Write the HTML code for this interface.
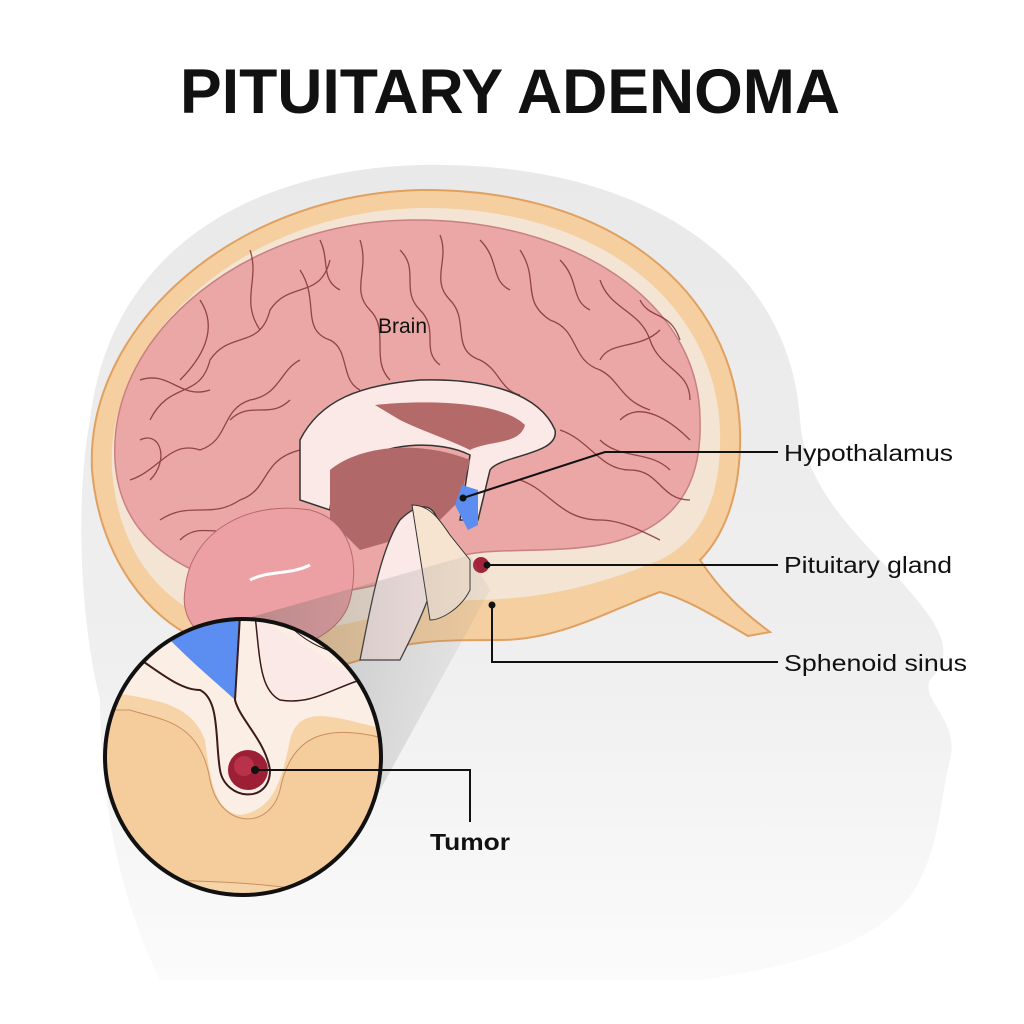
<!DOCTYPE html>
<html><head><style>
html,body{margin:0;padding:0;background:#fff;}
svg{display:block}
text{font-family:"Liberation Sans",Arial,sans-serif;}
</style></head><body>
<svg width="1024" height="1024" viewBox="0 0 1024 1024" xmlns="http://www.w3.org/2000/svg">
<defs>
<linearGradient id="cone" x1="0" y1="0" x2="1" y2="0">
<stop offset="0" stop-color="#555" stop-opacity="0.75"/>
<stop offset="1" stop-color="#888" stop-opacity="0.15"/>
</linearGradient>
<linearGradient id="fade" x1="0" y1="0" x2="0" y2="1">
<stop offset="0" stop-color="#e9e9e9"/>
<stop offset="0.6" stop-color="#efefef"/>
<stop offset="1" stop-color="#fbfbfb"/>
</linearGradient>
<clipPath id="cc"><circle cx="243" cy="757" r="138"/></clipPath>
</defs>
<path d="M420 165 C640 160 790 260 800 420 C805 480 840 520 900 580 C935 620 960 650 930 680 C920 700 960 720 950 760 C940 800 940 840 920 880 C900 920 850 960 700 980 L160 980 C120 900 100 800 100 700 C80 620 75 500 90 420 C110 250 250 170 420 165 Z" fill="url(#fade)"/>
<path d="M420 190 C610 188 735 290 740 430 C742 500 720 540 700 560 C720 590 740 610 770 632 L748 636 C720 620 690 600 660 592 C610 610 560 640 500 640 C440 640 400 640 360 660 C300 680 250 660 200 640 C150 620 100 560 92 470 C85 330 230 195 420 190 Z" fill="#f5cfa0" stroke="#e0a060" stroke-width="2"/>
<path d="M420 208 C595 206 715 300 720 430 C722 500 700 540 660 560 C600 585 540 600 470 600 C380 610 320 640 250 630 C180 620 120 570 112 470 C105 340 240 212 420 208 Z" fill="#f3e4d4"/>
<path d="M410 220 C570 218 700 300 700 420 C702 480 680 530 600 545 C540 555 480 545 450 560 C380 590 320 600 260 590 C200 580 120 550 115 460 C108 330 250 222 410 220 Z" fill="#eba7a5" stroke="#c98080" stroke-width="1.5"/>
<g fill="none" stroke="#7a2c2c" stroke-width="1.3" opacity="0.8">
<path d="M150 420 C170 380 200 400 210 360 C230 330 260 350 270 310 C290 280 320 300 330 260"/>
<path d="M130 480 C160 470 170 440 200 450 C230 440 220 410 250 400 C280 395 280 370 300 360"/>
<path d="M360 240 C370 270 350 290 370 310 C390 330 370 360 390 380"/>
<path d="M440 235 C450 260 430 280 450 300 C470 320 450 350 480 360 C500 370 500 390 520 395"/>
<path d="M520 250 C540 280 520 300 550 320 C580 330 570 360 600 370 C620 380 620 400 650 410"/>
<path d="M600 280 C610 310 640 310 650 340 C660 370 690 370 690 400"/>
<path d="M160 520 C190 500 210 520 240 500 C270 490 260 460 300 450 C320 440 320 420 340 410"/>
<path d="M560 430 C590 440 600 470 630 470 C660 470 660 500 690 500"/>
<path d="M520 480 C550 490 560 520 600 520 C620 520 640 530 660 540"/>
<path d="M250 250 C260 280 240 300 260 330"/>
<path d="M300 270 C320 300 300 330 330 340 C350 350 340 380 360 390"/>
<path d="M660 330 C640 350 610 340 600 360"/>
<path d="M200 300 C220 330 200 360 180 380"/>
<path d="M140 380 C170 370 180 400 210 390 M230 420 C250 400 270 420 290 400"/>
<path d="M400 250 C420 270 400 290 420 310 C440 330 420 350 440 365"/>
<path d="M480 240 C500 260 490 280 510 290 M560 260 C580 280 570 300 590 310"/>
<path d="M620 420 C640 400 670 420 690 440 M600 440 C620 460 650 450 670 470"/>
<path d="M140 440 C160 430 170 460 150 480 M180 540 C200 520 220 540 240 525"/>
<path d="M320 240 C330 260 320 280 340 290 M640 300 C650 320 670 310 680 340"/>
</g>
<path d="M300 440 C320 400 360 385 420 380 C490 378 540 395 555 430 C560 455 500 455 490 470 L478 520 L460 520 L470 455 C440 440 380 440 350 470 C340 480 330 500 330 510 L300 500 Z" fill="#fae9e6" stroke="#333" stroke-width="1.5"/>
<path d="M375 405 C420 400 500 400 525 425 C520 445 490 440 470 450 C450 440 420 430 400 420 Z" fill="#b56a6a"/>
<path d="M330 470 C360 445 420 440 470 460 L460 500 L430 530 L360 550 L330 520 Z" fill="#b06868"/>
<path d="M462 485 L478 490 L478 525 L468 530 L455 505 Z" fill="#5b8ef0"/>
<path d="M185 590 C190 530 250 500 310 510 C350 520 360 560 350 600 C340 640 280 660 230 650 C200 640 180 620 185 590 Z" fill="#eda0a3" stroke="#b86a6a" stroke-width="1"/>
<path d="M250 580 C270 570 290 575 310 565" stroke="#fff" stroke-width="3" fill="none"/>
<path d="M400 520 C420 500 440 500 440 540 C440 580 420 620 400 660 L360 660 C370 610 380 550 400 520 Z" fill="#fae9e6" stroke="#333" stroke-width="1.3"/>
<path d="M412 505 C430 505 440 520 450 535 L470 560 L470 590 C460 610 440 620 430 620 Z" fill="#f6e3d0" stroke="#333" stroke-width="1"/>
<circle cx="481" cy="565" r="8" fill="#a3243a"/>
<path d="M170 640 L470 555 L490 590 L380 790 Z" fill="url(#cone)" opacity="0.6"/>
<g clip-path="url(#cc)">
<rect x="100" y="615" width="290" height="290" fill="#f7d3a8"/>
<path d="M100 615 L390 615 L390 730 C340 720 300 700 290 740 C280 790 270 810 240 815 C215 812 210 780 205 740 C190 700 150 700 100 690 Z" fill="#fbeee4"/>
<path d="M130 710 C160 720 200 720 210 780 C220 830 270 830 280 790 C290 740 320 720 390 740 L390 910 C300 880 200 880 100 880 L100 710 Z" fill="#f5cd9c" stroke="#c89060" stroke-width="1"/>
<path d="M170 615 L240 615 L235 700 C225 690 200 670 170 640 Z" fill="#5b8ef0"/>
<path d="M100 640 C140 650 170 690 200 690 C220 700 215 740 220 770 C225 800 270 805 270 770 C265 740 240 720 235 700 L240 615" fill="none" stroke="#3a1a1a" stroke-width="2"/>
<path d="M255 615 C260 660 260 690 280 700 C310 705 330 690 360 680" fill="#fae9e6" stroke="#3a1a1a" stroke-width="1.5"/>
<path d="M280 615 C300 640 320 650 360 660" fill="none" stroke="#3a1a1a" stroke-width="1"/>
<circle cx="248" cy="770" r="20" fill="#9c1f35"/>
<circle cx="244" cy="766" r="10" fill="#b8334a"/>
</g>
<circle cx="243" cy="757" r="138" fill="none" stroke="#111" stroke-width="4"/>
<g stroke="#111" stroke-width="2" fill="none">
<path d="M463 498 L605 452 L778 452"/>
<path d="M485 565 L778 565"/>
<path d="M492 605 L492 662 L778 662"/>
<path d="M255 770 L470 770 L470 822"/>
</g>
<g fill="#111"><circle cx="463" cy="498" r="3.5"/><circle cx="487" cy="565" r="3.5"/><circle cx="492" cy="605" r="3.5"/><circle cx="255" cy="770" r="4"/></g>
<text x="510" y="113" font-size="63" font-weight="bold" text-anchor="middle" fill="#111" textLength="660" lengthAdjust="spacingAndGlyphs">PITUITARY ADENOMA</text>
<text x="378" y="333" font-size="21" fill="#111">Brain</text>
<text x="784" y="461" font-size="23" fill="#111" textLength="169" lengthAdjust="spacingAndGlyphs">Hypothalamus</text>
<text x="784" y="573" font-size="23" fill="#111" textLength="168" lengthAdjust="spacingAndGlyphs">Pituitary gland</text>
<text x="784" y="671" font-size="23" fill="#111" textLength="183" lengthAdjust="spacingAndGlyphs">Sphenoid sinus</text>
<text x="430" y="850" font-size="23" font-weight="bold" fill="#111" textLength="80" lengthAdjust="spacingAndGlyphs">Tumor</text>
</svg>
</body></html>
